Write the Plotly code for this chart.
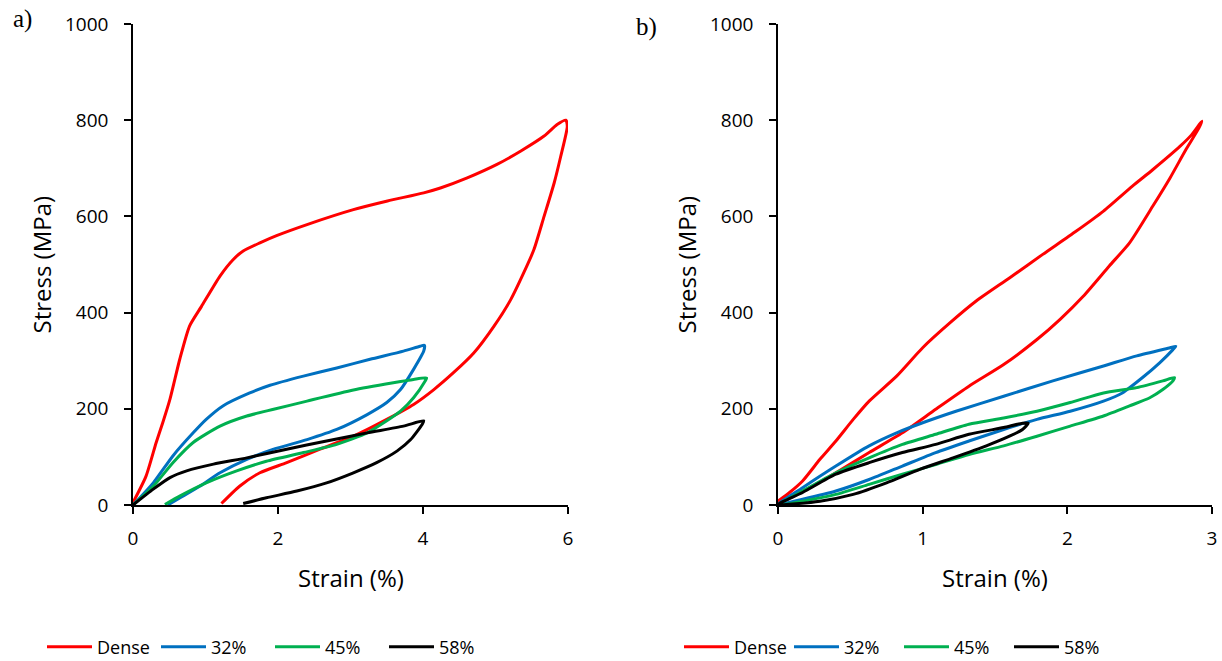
import plotly.graph_objects as go

W, H = 1222, 661

# ---------------- data (a) ----------------
a_dense_strain = [0, 0.18, 0.32, 0.41, 0.51, 0.645, 0.78, 0.945, 1.2, 1.38, 1.52, 1.75, 1.98, 2.40, 3.04, 3.51, 4.01, 4.24, 4.61, 5.02, 5.35, 5.67, 5.85, 5.97,
                  5.99, 5.9, 5.81, 5.67, 5.53, 5.39, 5.21, 4.98, 4.70, 4.42, 4.15, 3.87, 3.50, 3.04, 2.58, 2.12, 1.75, 1.47, 1.22]
a_dense_stress = [5, 60, 130, 171, 220, 303, 372, 413, 476, 510, 528, 545, 560, 583, 614, 632, 649, 659, 680, 708, 736, 767, 791, 800,
                  787, 725, 670, 600, 531, 483, 427, 372, 316, 275, 240, 209, 178, 143, 116, 88, 67, 39, 3]

a_32_strain = [0, 0.28, 0.55, 0.83, 1.01, 1.24, 1.61, 1.89, 2.35, 2.81, 3.27, 3.73, 3.96, 4.02,
               4.01, 3.87, 3.69, 3.50, 3.23, 2.81, 2.40, 1.94, 1.57, 1.20, 0.92, 0.65, 0.48]
a_32_stress = [0, 46, 102, 150, 178, 206, 233, 249, 268, 285, 303, 320, 330, 332,
               320, 282, 240, 213, 188, 157, 136, 116, 95, 67, 39, 15, 0]

a_45_strain = [0, 0.28, 0.55, 0.83, 1.2, 1.57, 1.94, 2.40, 3.04, 3.59, 3.87, 4.05,
               4.03, 3.87, 3.69, 3.50, 3.23, 2.81, 2.35, 1.84, 1.43, 1.01, 0.65, 0.44]
a_45_stress = [0, 39, 88, 130, 164, 185, 199, 216, 239, 254, 261, 264,
               258, 223, 195, 175, 150, 126, 109, 91, 71, 46, 19, 1]

a_58_strain = [0, 0.28, 0.51, 0.74, 1.11, 1.57, 2.12, 2.67, 3.23, 3.73, 4.01,
               3.99, 3.83, 3.64, 3.36, 3.04, 2.67, 2.26, 1.84, 1.52]
a_58_stress = [0, 33, 57, 71, 85, 98, 116, 133, 150, 164, 175,
               168, 136, 112, 88, 67, 46, 29, 15, 3]

# ---------------- data (b) ----------------
b_dense_strain = [0, 0.08, 0.17, 0.29, 0.40, 0.52, 0.63, 0.82, 1.0, 1.19, 1.37, 1.60, 1.83, 2.06, 2.25, 2.45, 2.59, 2.78, 2.86, 2.93,
                  2.91, 2.82, 2.71, 2.59, 2.43, 2.29, 2.11, 1.95, 1.79, 1.56, 1.32, 1.09, 0.86, 0.63, 0.40, 0.22, 0.08, 0]
b_dense_stress = [8, 26, 50, 95, 133, 178, 216, 268, 327, 379, 424, 472, 521, 569, 611, 663, 697, 746, 770, 798,
                  784, 739, 680, 621, 545, 497, 434, 386, 344, 292, 247, 199, 150, 109, 67, 36, 15, 5]

b_32_strain = [0, 0.17, 0.40, 0.63, 0.82, 1.0, 1.23, 1.56, 1.90, 2.25, 2.48, 2.71, 2.75,
               2.73, 2.64, 2.52, 2.38, 2.25, 2.02, 1.79, 1.56, 1.32, 1.09, 0.86, 0.63, 0.40, 0.17, 0]
b_32_stress = [1, 36, 81, 123, 150, 171, 195, 226, 258, 289, 310, 327, 330,
               323, 296, 265, 233, 216, 195, 178, 157, 133, 109, 81, 53, 29, 12, 1]

b_45_strain = [0, 0.17, 0.40, 0.63, 0.86, 1.09, 1.32, 1.56, 1.79, 2.02, 2.25, 2.48, 2.66, 2.74,
               2.73, 2.66, 2.57, 2.43, 2.25, 2.02, 1.79, 1.56, 1.32, 1.09, 0.86, 0.63, 0.40, 0.17, 0]
b_45_stress = [0, 29, 67, 98, 126, 147, 168, 181, 195, 213, 233, 244, 258, 265,
               258, 240, 223, 206, 185, 164, 143, 123, 105, 84, 64, 43, 22, 8, 0]

b_58_strain = [0, 0.17, 0.40, 0.63, 0.86, 1.09, 1.32, 1.56, 1.69, 1.73,
               1.69, 1.60, 1.44, 1.21, 0.98, 0.75, 0.52, 0.29, 0]
b_58_stress = [1, 26, 64, 88, 109, 126, 147, 161, 170, 170,
               157, 143, 123, 98, 74, 46, 22, 8, 1]

series_names = ["Dense", "32%", "45%", "58%"]
series_colors = ["#FF0000", "#0070C0", "#00B050", "#000000"]

x_ticks_a = [0, 2, 4, 6]
x_ticks_b = [0, 1, 2, 3]
y_ticks = [0, 200, 400, 600, 800, 1000]

FONT = "Open Sans"

fig = go.Figure()

a_sets = [(a_dense_strain, a_dense_stress), (a_32_strain, a_32_stress),
          (a_45_strain, a_45_stress), (a_58_strain, a_58_stress)]
b_sets = [(b_dense_strain, b_dense_stress), (b_32_strain, b_32_stress),
          (b_45_strain, b_45_stress), (b_58_strain, b_58_stress)]

for (xs, ys), name, col in zip(a_sets, series_names, series_colors):
    fig.add_trace(go.Scatter(x=xs, y=ys, mode="lines", name=name,
                             line=dict(color=col, width=3, shape="spline", smoothing=0.6),
                             xaxis="x", yaxis="y", legend="legend"))
for (xs, ys), name, col in zip(b_sets, series_names, series_colors):
    fig.add_trace(go.Scatter(x=xs, y=ys, mode="lines", name=name,
                             line=dict(color=col, width=3, shape="spline", smoothing=0.6),
                             xaxis="x2", yaxis="y2", legend="legend2"))

# page pixel -> paper fraction
def px_x(p):
    return p / W

def px_y(p):
    return (H - p) / H

ydom = [px_y(505), px_y(24)]

axis_common = dict(showgrid=False, zeroline=False, showline=True, linecolor="black", linewidth=1.5,
                   ticks="outside", ticklen=7, tickwidth=1.5, tickcolor="black",
                   tickfont=dict(family=FONT, size=19, color="black"))

fig.update_layout(
    width=W, height=H,
    margin=dict(l=0, r=0, t=0, b=0, autoexpand=False),
    paper_bgcolor="white", plot_bgcolor="white",
    xaxis=dict(domain=[px_x(133), px_x(568)], range=[0, 6], tickvals=x_ticks_a,
               anchor="y", ticklabelstandoff=8, **axis_common),
    yaxis=dict(domain=ydom, range=[0, 1000], tickvals=y_ticks, anchor="x",
               ticklabelstandoff=12, **axis_common),
    xaxis2=dict(domain=[px_x(778), px_x(1212)], range=[0, 3], tickvals=x_ticks_b,
                anchor="y2", ticklabelstandoff=8, **axis_common),
    yaxis2=dict(domain=ydom, range=[0, 1000], tickvals=y_ticks, anchor="x2",
                ticklabelstandoff=12, **axis_common),
    legend=dict(orientation="h", x=px_x(42), y=px_y(647), xanchor="left", yanchor="middle",
                itemwidth=45, entrywidth=54, font=dict(family=FONT, size=18, color="black"),
                bgcolor="rgba(0,0,0,0)", tracegroupgap=0),
    legend2=dict(orientation="h", x=px_x(679), y=px_y(647), xanchor="left", yanchor="middle",
                 itemwidth=45, entrywidth=50, font=dict(family=FONT, size=18, color="black"),
                 bgcolor="rgba(0,0,0,0)", tracegroupgap=0),
    showlegend=True,
)

title_font = dict(family=FONT, size=24, color="black")
annotations = [
    dict(text="Strain (%)", x=px_x(350.5), y=px_y(577), xref="paper", yref="paper",
         showarrow=False, font=title_font, xanchor="center", yanchor="middle"),
    dict(text="Strain (%)", x=px_x(995), y=px_y(577), xref="paper", yref="paper",
         showarrow=False, font=title_font, xanchor="center", yanchor="middle"),
    dict(text="Stress (MPa)", x=px_x(41), y=px_y(264.5), xref="paper", yref="paper",
         showarrow=False, font=title_font, textangle=-90, xanchor="center", yanchor="middle"),
    dict(text="Stress (MPa)", x=px_x(686), y=px_y(264.5), xref="paper", yref="paper",
         showarrow=False, font=title_font, textangle=-90, xanchor="center", yanchor="middle"),
    dict(text="a)", x=px_x(22), y=px_y(19), xref="paper", yref="paper",
         showarrow=False, font=dict(family="Liberation Serif", size=25, color="black"),
         xanchor="center", yanchor="middle"),
    dict(text="b)", x=px_x(646), y=px_y(27), xref="paper", yref="paper",
         showarrow=False, font=dict(family="Liberation Serif", size=25, color="black"),
         xanchor="center", yanchor="middle"),
]
fig.update_layout(annotations=annotations)

fig.write_html("out.html",
               config={"displayModeBar": False},
               post_script="document.body.style.margin='0';document.body.style.overflow='hidden';")
